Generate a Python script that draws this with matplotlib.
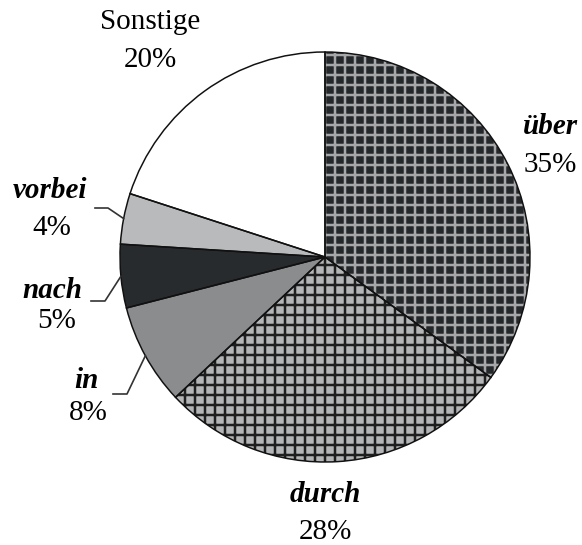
import matplotlib
matplotlib.use('Agg')
import matplotlib.pyplot as plt
from matplotlib.patches import Wedge
import numpy as np

# Daten
labels = ['über', 'durch', 'in', 'nach', 'vorbei', 'Sonstige']
values = [35, 28, 8, 5, 4, 20]
fills = ['#25282b', '#b3b5b7', '#8b8c8e', '#282b2e', '#b9babc', '#ffffff']
hatches = ['++', '++', None, None, None, None]
hatch_cols = ['#a5a7a9', '#1e1e1e', None, None, None, None]

W, H = 582, 545
DPI = 120
CX, CY, R = 325, 257, 205


def px(x, y):
    # Pixelposition -> Datenkoordinaten (Kreis mit Radius 1)
    return (x - CX) / R, (CY - y) / R


plt.rcParams['hatch.linewidth'] = 1.5
fig = plt.figure(figsize=(W / DPI, H / DPI), dpi=DPI)
ax = fig.add_axes([0, 0, 1, 1])

wedges, _ = ax.pie(values, startangle=90, counterclock=False, radius=1,
                   colors=fills, wedgeprops=dict(linewidth=0))
for w, h, hc in zip(wedges, hatches, hatch_cols):
    if h:
        w.set_hatch(h)
        w.set_edgecolor(hc)
    # Umriss separat zeichnen
    ax.add_patch(Wedge(w.center, w.r, w.theta1, w.theta2, fill=False,
                       edgecolor='#111111', linewidth=0.9, zorder=3))

ax.set_xlim(px(0, 0)[0], px(W, 0)[0])
ax.set_ylim(px(0, H)[1], px(0, 0)[1])
ax.set_aspect('auto')
ax.axis('off')

serif = 'Liberation Serif'
fs = 17.5
# Beschriftungen: (Name-Pos, Prozent-Pos)
label_pos = {
    'über': ((550, 127), (550, 165)),
    'durch': ((325, 495), (325, 532)),
    'in': ((86, 380), (88, 413)),
    'nach': ((52, 290), (57, 321)),
    'vorbei': ((50, 190), (52, 228)),
    'Sonstige': ((150, 22), (150, 60)),
}
for lab, val in zip(labels, values):
    (nx, ny), (vx, vy) = label_pos[lab]
    style = 'normal' if lab == 'Sonstige' else 'italic'
    weight = 'normal' if lab == 'Sonstige' else 'bold'
    ax.text(*px(nx, ny), lab, ha='center', va='center', fontsize=fs,
            family=serif, style=style, weight=weight)
    ax.text(*px(vx, vy), f'{val}%', ha='center', va='center', fontsize=fs,
            family=serif)

# Hinweislinien fuer kleine Segmente
leaders = {
    'vorbei': [(95, 208), (108, 208)],
    'nach': [(91, 301), (105, 301)],
    'in': [(113, 394), (127, 394)],
}
for w, lab in zip(wedges, labels):
    if lab in leaders:
        mid = np.deg2rad((w.theta1 + w.theta2) / 2)
        end = (np.cos(mid), np.sin(mid))
        pts = [px(*p) for p in leaders[lab]] + [end]
        ax.plot([p[0] for p in pts], [p[1] for p in pts], color='#333333',
                linewidth=1.0, zorder=4)

fig.savefig('out.png', dpi=DPI)
